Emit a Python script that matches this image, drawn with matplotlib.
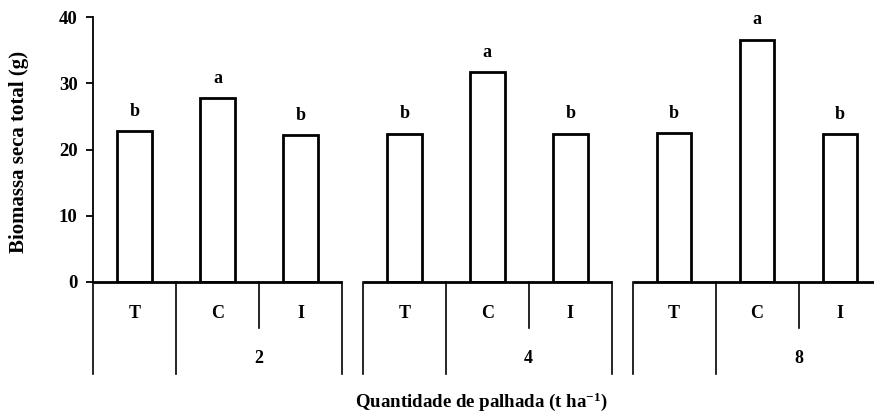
import matplotlib
matplotlib.use("Agg")
import matplotlib.pyplot as plt

plt.rcParams['font.family'] = ['Liberation Serif', 'DejaVu Serif']
plt.rcParams['font.weight'] = 'bold'
plt.rcParams['mathtext.fontset'] = 'custom'
plt.rcParams['mathtext.rm'] = 'Liberation Serif:bold'
plt.rcParams['mathtext.bf'] = 'Liberation Serif:bold'
plt.rcParams['mathtext.it'] = 'Liberation Serif:bold'

# ---- data ----
groups = ['2', '4', '8']
treatments = ['T', 'C', 'I']
biomass_2 = [22.8, 27.7, 22.2]
biomass_4 = [22.4, 31.65, 22.4]
biomass_8 = [22.5, 36.6, 22.3]
letters_2 = ['b', 'a', 'b']
letters_4 = ['b', 'a', 'b']
letters_8 = ['b', 'a', 'b']
yticks = [0, 10, 20, 30, 40]

values = [biomass_2, biomass_4, biomass_8]
letters = [letters_2, letters_4, letters_8]

W, H, DPI = 874, 419, 100
fig = plt.figure(figsize=(W / DPI, H / DPI), dpi=DPI)
ax = fig.add_axes([93 / W, (H - 282) / H, 1 - 93 / W, 265 / H])

gap = 0.25
bar_w = 0.42
lw = 2.0
xt = ax.get_xaxis_transform()

for g, grp in enumerate(groups):
    start = g * (3 + gap)
    xs = [start + i + 0.5 for i in range(3)]
    ax.bar(xs, values[g], width=bar_w, facecolor='white', edgecolor='black',
           linewidth=lw, zorder=3)
    for x, v, l in zip(xs, values[g], letters[g]):
        ax.annotate(l, (x, v), xytext=(0, 11), textcoords='offset points',
                    ha='center', va='baseline', fontsize=13, fontweight='bold')
    # baseline segment
    ax.plot([start, start + 3], [0, 0], color='black', lw=lw, clip_on=False,
            transform=xt, solid_capstyle='butt', zorder=4)
    # dividers
    for k, frac in [(0, -0.347), (1, -0.347), (2, -0.174), (3, -0.347)]:
        ax.plot([start + k, start + k], [0, frac], color='black', lw=1.2,
                clip_on=False, transform=xt)
    for i, t in enumerate(treatments):
        ax.text(start + i + 0.5, -0.117, t, transform=xt, ha='center',
                va='center', fontsize=13, fontweight='bold')
    ax.text(start + 2, -0.287, grp, transform=xt, ha='center', va='center',
            fontsize=13, fontweight='bold')

ax.set_xlim(0, (W - 93) / 83)
ax.set_ylim(0, 40)
ax.set_yticks(yticks)
ax.set_yticklabels([str(t) for t in yticks], fontsize=13.5, fontweight='bold')
ax.tick_params(axis='y', direction='out', length=5, width=1.3, pad=6)
ax.set_xticks([])
for s in ['top', 'right', 'bottom']:
    ax.spines[s].set_visible(False)
ax.spines['left'].set_linewidth(1.3)

fig.text(19 / W, (H - 152) / H, 'Biomassa seca total (g)', rotation=90,
         ha='center', va='center', fontsize=15, fontweight='bold')
fig.text(481 / W, (H - 402) / H, 'Quantidade de palhada (t ha$^{-1}$)',
         ha='center', va='center', fontsize=13.6, fontweight='bold')

fig.savefig('out.png', dpi=DPI)
